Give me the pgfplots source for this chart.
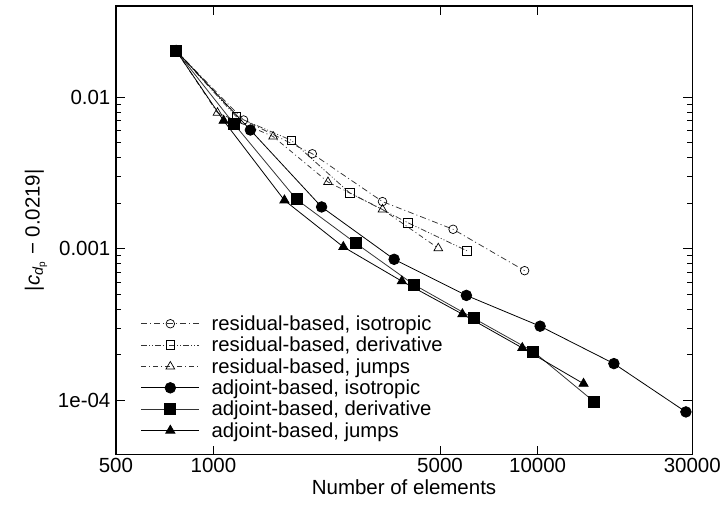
\documentclass[border=0pt]{standalone}
\usepackage{pgfplots}
\pgfplotsset{compat=1.18}
\usepackage{fontspec}
\setmainfont{Liberation Sans}
\begin{document}
\begin{tikzpicture}[font=\fontsize{20.5bp}{24bp}\selectfont]
\begin{axis}[
  xmode=log, ymode=log,
  scale only axis,
  width=577bp, height=449bp,
  xmin=500, xmax=30000,
  ymin=4.4e-5, ymax=0.04,
  xtick={500,1000,5000,10000,30000},
  xticklabels={500,1000,5000,10000,30000},
  ytick={1e-4,0.001,0.01},
  yticklabels={1e-04,0.001,0.01},
  /pgf/number format/assume math mode=true,
  tick align=inside,
  major tick length=9bp, minor tick length=5bp,
  tick style={black, line width=0.8bp},
  axis line style={black, line width=1.3bp},
  xlabel={Number of elements},
  ylabel={|\textit{c}\textsubscript{\textit{d}\textsubscript{p}} − 0.0219|},
  ylabel style={yshift=4bp},
  yticklabel style={xshift=-2bp},
  tick label style={font=\fontsize{20.5bp}{24bp}\selectfont},
  label style={font=\fontsize{20.5bp}{24bp}\selectfont},
  legend style={draw=none, fill=none, at={(0.038,0.026)}, anchor=south west,
    font=\fontsize{20.3bp}{21bp}\selectfont, row sep=1.2bp,
    /tikz/every odd column/.append style={column sep=10bp}},
  legend cell align=left,
  legend image code/.code={%
    \draw[#1,mark repeat=2,mark phase=2] plot coordinates {(0bp,0bp) (29bp,0bp) (58bp,0bp)};},
]
\addplot[color=black!80, line width=0.75bp, dash pattern=on 6bp off 3bp on 1bp off 3bp,
  mark=o, mark size=4.3bp, mark options={solid, fill=white, black, line width=0.7bp}]
  coordinates {(767,0.0203) (1239,0.00708) (2018,0.00424) (3323,0.00205) (5487,0.001346) (9120,0.000718)};
\addlegendentry{residual-based, isotropic}
\addplot[color=black!80, line width=0.75bp, dash pattern=on 6bp off 2bp on 1bp off 2bp on 1bp off 2bp,
  mark=square, mark size=4.3bp, mark options={solid, fill=white, black, line width=0.7bp}]
  coordinates {(767,0.0203) (1176,0.00744) (1737,0.00521) (2632,0.00234) (3972,0.00149) (6062,0.00097)};
\addlegendentry{residual-based, derivative}
\addplot[color=black!80, line width=0.75bp, dash pattern=on 5bp off 3bp on 1bp off 3bp,
  mark=triangle, mark size=5bp, mark options={solid, fill=white, black, line width=0.7bp}]
  coordinates {(767,0.0203) (1029,0.00791) (1528,0.00551) (2256,0.00276) (3323,0.00182) (4939,0.00101)};
\addlegendentry{residual-based, jumps}
\addplot[color=black, line width=0.8bp, solid,
  mark=*, mark size=5.3bp, mark options={black}]
  coordinates {(767,0.0203) (1300,0.00608) (2156,0.00189) (3610,0.000853) (6030,0.000493) (10180,0.000309) (17200,0.000175) (28680,8.4e-5)};
\addlegendentry{adjoint-based, isotropic}
\addplot[color=black!80, line width=0.8bp, solid,
  mark=square*, mark size=5.5bp, mark options={black}]
  coordinates {(767,0.0203) (1160,0.00663) (1804,0.00212) (2748,0.00109) (4145,0.000582) (6358,0.000348) (9705,0.00021) (14950,9.8e-5)};
\addlegendentry{adjoint-based, derivative}
\addplot[color=black, line width=0.8bp, solid,
  mark=triangle*, mark size=5.3bp, mark options={black}]
  coordinates {(767,0.0203) (1075,0.00701) (1656,0.00209) (2516,0.00103) (3813,0.000612) (5862,0.000371) (8970,0.000222) (13860,0.000129)};
\addlegendentry{adjoint-based, jumps}
\end{axis}
\path (current axis.south west) ++(-116bp,-57bp);
\path (current axis.north west) ++(608bp,6bp);
\end{tikzpicture}
\end{document}
